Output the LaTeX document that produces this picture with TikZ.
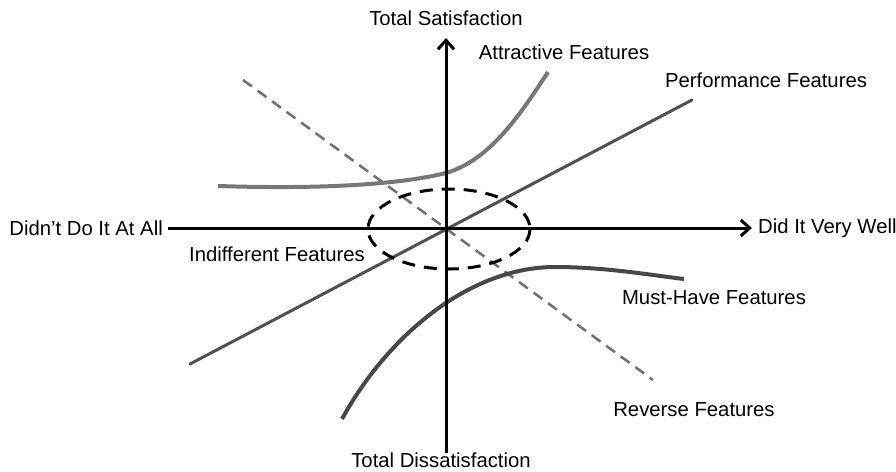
\documentclass[tikz,border=0pt]{standalone}
\usepackage{fontspec}
\setmainfont{Liberation Sans}
\usetikzlibrary{arrows.meta}
\definecolor{perfgray}{HTML}{505050}
\definecolor{attgray}{HTML}{777777}
\definecolor{mustgray}{HTML}{474747}
\definecolor{revgray}{HTML}{707070}
\tikzset{
  lbl/.style={font=\fontsize{20.3}{24}\selectfont, inner sep=0pt},
  axis/.style={line width=3pt, -{Straight Barb[length=9pt,width=16pt,line width=3pt]}},
  curveA/.style={line width=4pt, attgray},
  curveM/.style={line width=4pt, mustgray},
  perf/.style={line width=3pt, perfgray},
  rev/.style={line width=2.5pt, revgray, dash pattern=on 11pt off 7pt},
  zone/.style={line width=3pt, dash pattern=on 13pt off 9pt},
}
\begin{document}
\begin{tikzpicture}[x=1pt,y=-1pt]
\useasboundingbox (0,0) rectangle (896,471);
% coordinates
\coordinate (xl) at (168,228);
\coordinate (xr) at (752,228);
\coordinate (yb) at (446,453);
\coordinate (yt) at (446,38);
\coordinate (p1) at (190,364);
\coordinate (p2) at (692,100);
\coordinate (r1) at (243,80);
\coordinate (r2) at (653,380);
\coordinate (zc) at (449,229);
% reverse dashed
\draw[rev] (r1) -- (r2);
% performance
\draw[perf, line cap=round] (p1) -- (p2);
% attractive
\draw[curveA] (218,186) .. controls (340,190) and (410,182) .. (446,173) .. controls (490,160) and (520,115) .. (548,72);
% must-have
\draw[curveM] (342,419) .. controls (388,335) and (470,267) .. (555,267) .. controls (605,267) and (650,275) .. (684,279);
% ellipse
\draw[zone] (zc) ellipse [x radius=81, y radius=40];
% axes
\draw[axis] (xl) -- (xr);
\draw[axis] (yb) -- (yt);
% labels
\node[lbl] (ts) at (446,18) {Total Satisfaction};
\node[lbl] (td) at (441,460) {Total Dissatisfaction};
\node[lbl, anchor=east] (dn) at (163,228) {Didn’t Do It At All};
\node[lbl, anchor=west] (dw) at (758,228) {Did It Very Well};
\node[lbl] (af) at (564,52) {Attractive Features};
\node[lbl] (pf) at (766,80) {Performance Features};
\node[lbl] (inf) at (277,254) {Indifferent Features};
\node[lbl] (mf) at (714,298) {Must-Have Features};
\node[lbl] (rf) at (694,410) {Reverse Features};
\end{tikzpicture}
\end{document}
